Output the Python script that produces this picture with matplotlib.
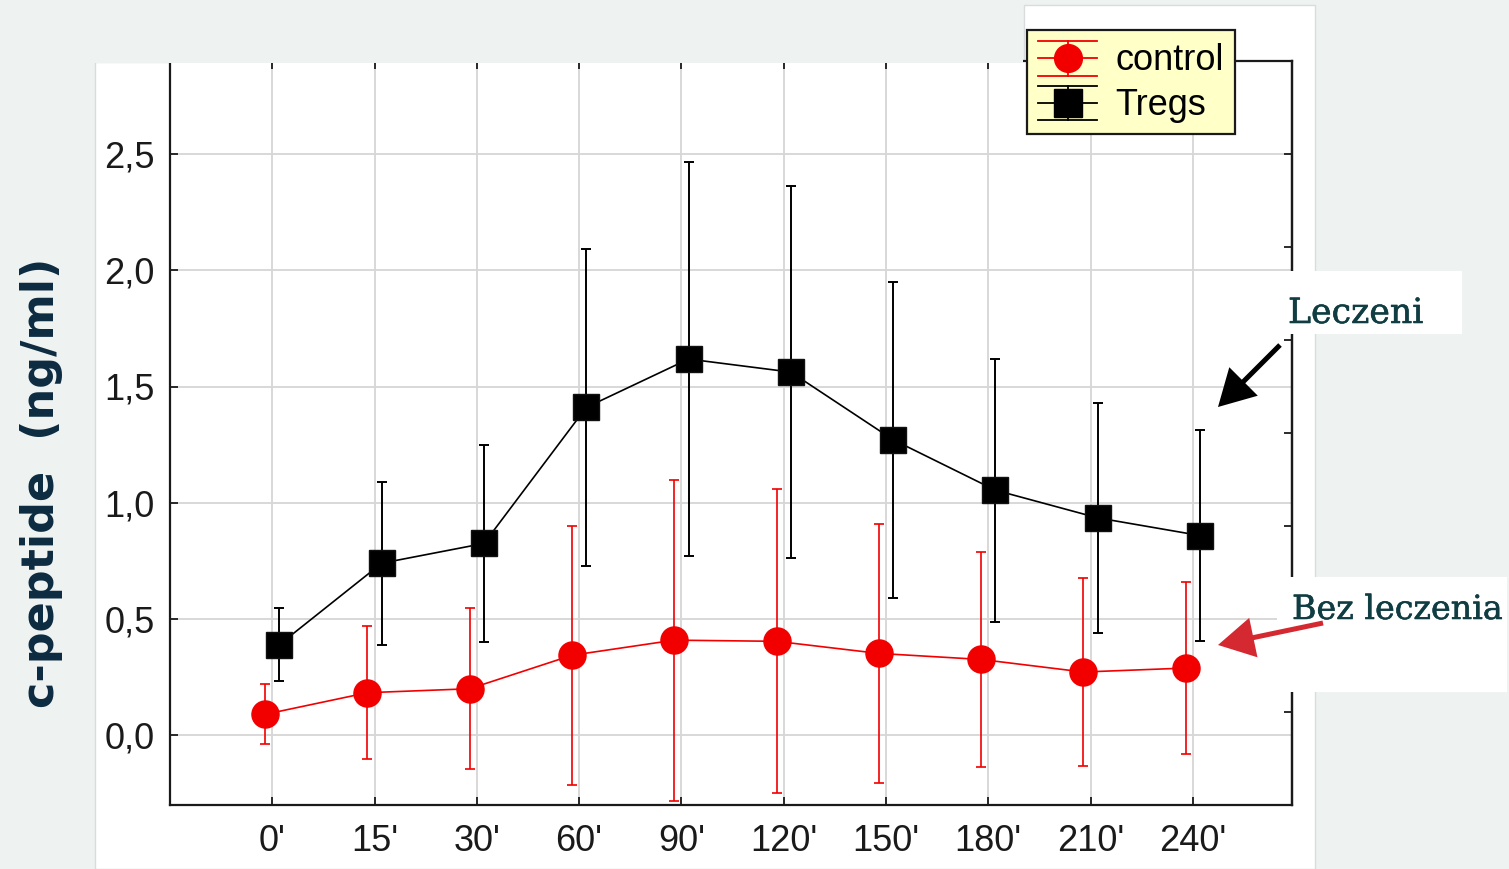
import numpy as np
import matplotlib.pyplot as plt
import matplotlib.patheffects as pe
from matplotlib.patches import Polygon, Rectangle, FancyArrowPatch
from matplotlib.legend_handler import HandlerBase
from matplotlib.lines import Line2D

# punkty czasowe testu i wartosci c-peptydu (srednia +/- SD)
czas = ["0'", "15'", "30'", "60'", "90'", "120'", "150'", "180'", "210'", "240'"]
control_mean = [0.09, 0.183, 0.20, 0.344, 0.409, 0.404, 0.352, 0.326, 0.272, 0.289]
control_sd = [0.129, 0.287, 0.347, 0.558, 0.691, 0.653, 0.556, 0.464, 0.405, 0.369]
tregs_mean = [0.39, 0.74, 0.825, 1.41, 1.618, 1.562, 1.271, 1.054, 0.935, 0.859]
tregs_sd = [0.158, 0.35, 0.423, 0.683, 0.847, 0.80, 0.68, 0.565, 0.496, 0.452]
y_ticks = [0.0, 0.5, 1.0, 1.5, 2.0, 2.5]
prawa_os = [0.1, 0.5, 0.9, 1.3, 1.7, 2.1, 2.5]

W, H = 1509, 869
plt.rcParams['font.family'] = ['Liberation Sans', 'DejaVu Sans']


def fx(x):
    return x / W


def fy(y):
    return 1 - y / H


fig = plt.figure(figsize=(W / 100, H / 100), dpi=100, facecolor='#eef2f1')

# biale tlo wykresu
panel = Polygon([(fx(95), fy(869)), (fx(95), fy(62)), (fx(1024), fy(62)), (fx(1024), fy(5)),
                 (fx(1315), fy(5)), (fx(1315), fy(869))], closed=True,
                transform=fig.transFigure, facecolor='white', edgecolor='#d9dcdc', lw=1, zorder=-1)
fig.add_artist(panel)

ax = fig.add_axes([fx(170), fy(805), fx(1292) - fx(170), fy(61) - fy(805)])
x = np.arange(len(czas))

red = '#f20000'
ax.errorbar(x - 0.07, control_mean, yerr=control_sd, color=red, marker='o', ms=19.5,
            mec=red, lw=1.2, elinewidth=1.2, capsize=3.6, capthick=1.2, zorder=3)
ax.errorbar(x + 0.07, tregs_mean, yerr=tregs_sd, color='black', marker='s', ms=19,
            mec='#111111', lw=1.2, elinewidth=1.4, capsize=3.6, capthick=1.4, zorder=4)

ax.set_xlim(-1.0, 9.97)
ax.set_ylim(-0.3, 2.9)
ax.set_xticks(x)
ax.set_xticklabels(czas)
ax.set_yticks(y_ticks)
ax.set_yticklabels([f"{v:.1f}".replace('.', ',') for v in y_ticks])
ax.grid(True, color='#d6d6d6', lw=1.3)
ax.set_axisbelow(True)
ax.tick_params(axis='both', direction='in', length=6, width=1.3, labelsize=26,
               colors='#1a1a1a', top=True)
ax.tick_params(axis='y', pad=11)
ax.tick_params(axis='x', pad=14)
for s in ax.spines.values():
    s.set_linewidth(1.6)
    s.set_color('#1a1a1a')

# prawa os z wlasnymi znacznikami
ax2 = ax.twinx()
ax2.set_ylim(ax.get_ylim())
ax2.set_yticks(prawa_os)
ax2.tick_params(axis='y', direction='in', length=6, width=1.3, labelright=False, colors='#1a1a1a')
for name, s in ax2.spines.items():
    s.set_visible(name == 'right')
    s.set_linewidth(1.6)
    s.set_color('#1a1a1a')


class ErrHandler(HandlerBase):
    def __init__(self, color, marker, ms):
        super().__init__()
        self.color, self.marker, self.ms = color, marker, ms

    def create_artists(self, legend, orig_handle, xdescent, ydescent, width, height, fontsize, trans):
        x0, x1 = -xdescent, -xdescent + width
        xc = (x0 + x1) / 2
        yc = -ydescent + height / 2
        dy = height / 2
        arts = []
        for yy in (yc - dy, yc, yc + dy):
            arts.append(Line2D([x0, x1], [yy, yy], color=self.color, lw=1.3, transform=trans))
        arts.append(Line2D([xc, xc], [yc - dy, yc + dy], color=self.color, lw=1.3, transform=trans))
        arts.append(Line2D([xc], [yc], marker=self.marker, ms=self.ms, color=self.color,
                           ls='none', transform=trans))
        return arts


h_control = Line2D([], [], color=red)
h_tregs = Line2D([], [], color='black')
leg = ax2.legend([h_control, h_tregs], ['control', 'Tregs'],
                 handler_map={h_control: ErrHandler(red, 'o', 20),
                              h_tregs: ErrHandler('black', 's', 19.5)},
                 loc='upper left', bbox_to_anchor=(fx(1027), fy(30)), bbox_transform=fig.transFigure,
                 fontsize=26, frameon=True, fancybox=False, framealpha=1,
                 facecolor='#ffffc8', edgecolor='#1a1a1a', borderpad=0.3,
                 handlelength=1.65, handleheight=1.1, handletextpad=0.5,
                 labelspacing=0.2, borderaxespad=0)
leg.get_frame().set_linewidth(1.6)
leg.set_zorder(10)

# gorny pasek tla zaslania gorna krawedz osi
fig.add_artist(Rectangle((0, fy(63)), fx(1023), 1 - fy(63), transform=fig.transFigure,
                         facecolor='#eef2f1', edgecolor='none', zorder=5))

fig.text(fx(42), fy(483), 'c-peptide  (ng/ml)', rotation=90, ha='center', va='center',
         fontsize=32, fontweight='bold', color='#0d2b40', family=['DejaVu Sans'])

# opisy grup ze strzalkami
opis = '#0f3d42'
gruby = [pe.withStroke(linewidth=0.4, foreground=opis)]
fig.add_artist(Rectangle((fx(1238), fy(334)), fx(1462) - fx(1238), fy(271) - fy(334),
                         transform=fig.transFigure, facecolor='white', edgecolor='none', zorder=6))
fig.text(fx(1288), fy(323), 'Leczeni', fontsize=25, color=opis, family=['DejaVu Serif'],
         ha='left', va='baseline', zorder=7, path_effects=gruby)
fig.add_artist(Rectangle((fx(1277), fy(692)), fx(1507) - fx(1277), fy(577) - fy(692),
                         transform=fig.transFigure, facecolor='white', edgecolor='none', zorder=6))
fig.text(fx(1292), fy(619), 'Bez leczenia', fontsize=24, color=opis, family=['DejaVu Serif'],
         ha='left', va='baseline', zorder=7, path_effects=gruby)

fig.add_artist(FancyArrowPatch((fx(1280), fy(345)), (fx(1218), fy(407)), transform=fig.transFigure,
                               arrowstyle='simple,head_length=26,head_width=29,tail_width=3.6',
                               mutation_scale=1, facecolor='black', edgecolor='none',
                               shrinkA=0, shrinkB=0, zorder=8))
fig.add_artist(FancyArrowPatch((fx(1323), fy(623)), (fx(1218), fy(645)), transform=fig.transFigure,
                               arrowstyle='simple,head_length=26,head_width=29,tail_width=3.6',
                               mutation_scale=1, facecolor='#d42930', edgecolor='none',
                               shrinkA=0, shrinkB=0, zorder=8))

fig.savefig('out.png', dpi=100, facecolor=fig.get_facecolor())
